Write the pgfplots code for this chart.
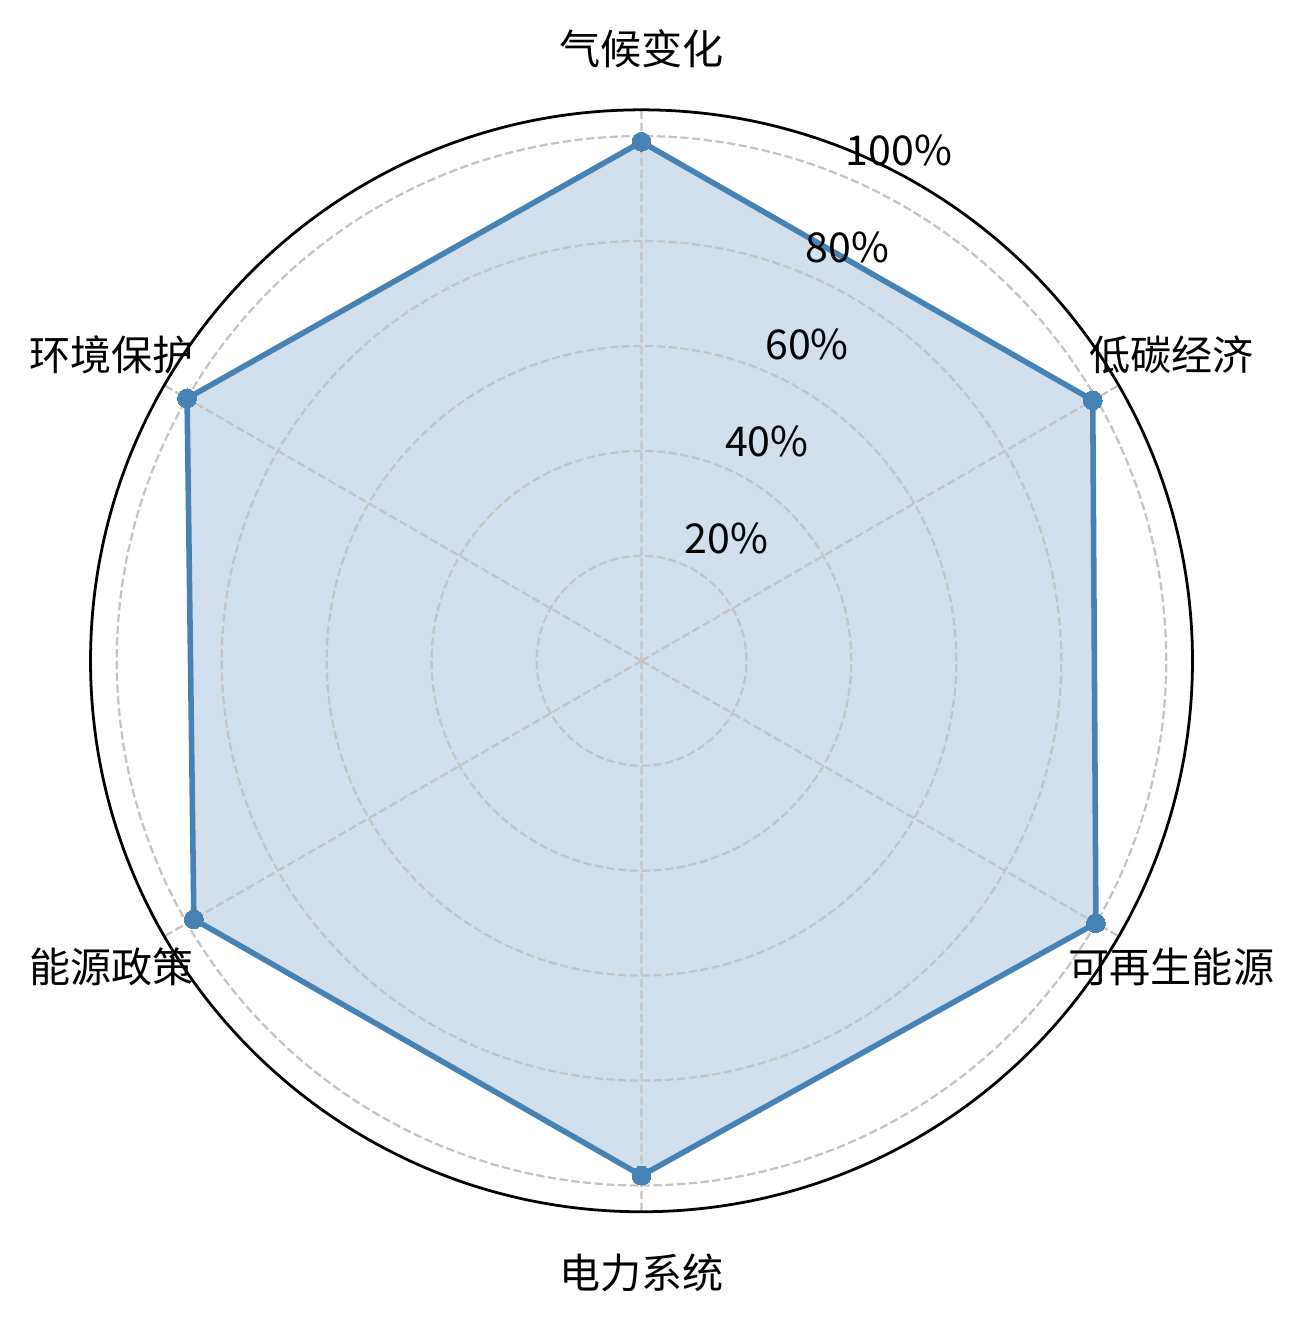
\documentclass[border=0pt]{standalone}
\usepackage{fontspec}
\setmainfont{Noto Sans CJK SC}
\usepackage{pgfplots}
\usepgfplotslibrary{polar}
\pgfplotsset{compat=1.18}
\definecolor{steelblue}{HTML}{4682B4}
\definecolor{gridgray}{HTML}{C4C4C4}
\begin{document}
\fontsize{14.8pt}{18pt}\selectfont
\begin{tikzpicture}
\begin{polaraxis}[
  set layers=standard,
  scale only axis,
  width=396.7pt, height=396.7pt,
  ymin=0, ymax=105,
  xtick={30,90,150,210,270,330},
  xticklabels={},
  ytick={20,40,60,80,100},
  yticklabels={},
  major tick length=0pt,
  grid=major,
  major grid style={gridgray, line width=0.8pt, dash pattern=on 2.96pt off 1.28pt},
  separate axis lines,
  x axis line style={black, line width=1pt},
  y axis line style={draw=none},
  clip=false,
]
\coordinate (c) at (axis cs:0,0);
\addplot[on layer=axis background, draw=none, fill=steelblue, fill opacity=0.25] coordinates {
  (90,98.9) (30,99.3) (-30,100) (-90,98.1) (-150,98.5) (150,100) (90,98.9)
};
\addplot[steelblue, line width=2pt, mark=*, mark size=3.4pt, mark options={fill=steelblue, draw=steelblue, line width=0pt}] coordinates {
  (90,98.9) (30,99.3) (-30,100) (-90,98.1) (-150,98.5) (150,100) (90,98.9)
};
\node[anchor=base west, inner sep=0pt, xshift=1pt, yshift=3.7pt] at (axis cs:67.5,20) {20\%};
\node[anchor=base west, inner sep=0pt, xshift=1pt, yshift=3.7pt] at (axis cs:67.5,40) {40\%};
\node[anchor=base west, inner sep=0pt, xshift=1pt, yshift=3.7pt] at (axis cs:67.5,60) {60\%};
\node[anchor=base west, inner sep=0pt, xshift=1pt, yshift=3.7pt] at (axis cs:67.5,80) {80\%};
\node[anchor=base west, inner sep=0pt, xshift=1pt, yshift=3.7pt] at (axis cs:67.5,100) {100\%};
\node[anchor=center] at (axis cs:90,116.6) {气候变化};
\node[anchor=center] at (axis cs:30,116.6) {低碳经济};
\node[anchor=center] at (axis cs:-30,116.6) {可再生能源};
\node[anchor=center] at (axis cs:-90,116.6) {电力系统};
\node[anchor=center] at (axis cs:-150,116.6) {能源政策};
\node[anchor=center] at (axis cs:150,116.6) {环境保护};
\end{polaraxis}
\path (c) ++(-230.94pt,-238.75pt) rectangle ++(469.44pt,476.64pt);
\end{tikzpicture}
\end{document}
